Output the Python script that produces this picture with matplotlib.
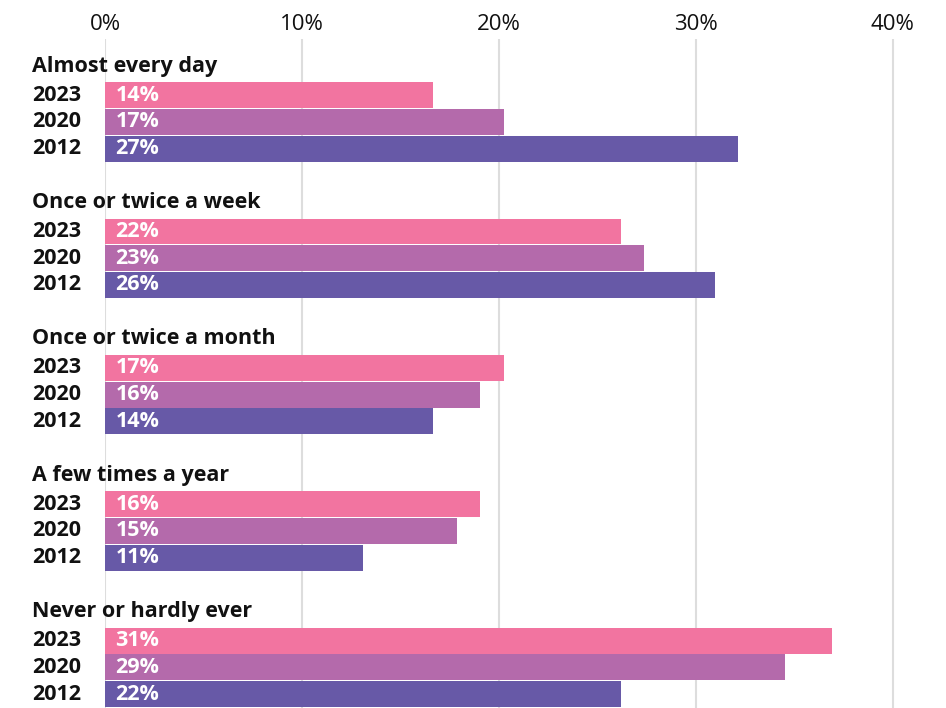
import matplotlib
matplotlib.use("Agg")
import matplotlib.pyplot as plt
import numpy as np

plt.rcParams['font.family'] = ['Open Sans', 'DejaVu Sans']

categories = ['Almost every day', 'Once or twice a week', 'Once or twice a month',
              'A few times a year', 'Never or hardly ever']
years = ['2023', '2020', '2012']
v2023 = [14, 22, 17, 16, 31]
v2020 = [17, 23, 16, 15, 29]
v2012 = [27, 26, 14, 11, 22]
tick_labels = ['0%', '10%', '20%', '30%', '40%']

colors = ['#F274A0', '#B46AAB', '#6759A7']
# the gridlines in the original sit at 0.84 of the labelled value
tick_scale = 0.84

W, H = 946, 708
fig = plt.figure(figsize=(W / 100, H / 100), dpi=100)
ax = fig.add_axes([105 / W, 0, (W - 105) / W, (H - 39) / H])

group_step = 5.1
series = [v2023, v2020, v2012]
for g, cat in enumerate(categories):
    base = g * group_step
    ax.text(-73 / 23.45, base - 1.05, cat, ha='left', va='center',
            fontsize=15.5, fontweight='bold', color='#111111')
    for i, (yr, vals) in enumerate(zip(years, series)):
        y = base + i + 0.04
        ax.barh(y, vals[g], height=0.97, color=colors[i], zorder=2)
        ax.text(-73 / 23.45, y, yr, ha='left', va='center',
                fontsize=15.5, fontweight='bold', color='#111111')
        ax.text(0.45, y, f'{vals[g]}%', ha='left', va='center',
                fontsize=15.5, fontweight='bold', color='white', zorder=3)

ax.set_xlim(0, (W - 105) / 23.45)
ax.set_ylim(4 * group_step + 2 + 0.56, -2.06)
ticks = np.arange(0, 41, 10) * tick_scale
ax.set_xticks(ticks)
ax.set_xticklabels(tick_labels, fontsize=16, color='#111111')
ax.xaxis.tick_top()
ax.tick_params(axis='x', length=0, pad=3)
ax.set_yticks([])
ax.grid(axis='x', color='#DDDDDD', linewidth=1.5, zorder=0)
for s in ax.spines.values():
    s.set_visible(False)
for t in ax.texts:
    t.set_clip_on(False)

fig.savefig('out.png', dpi=100)
